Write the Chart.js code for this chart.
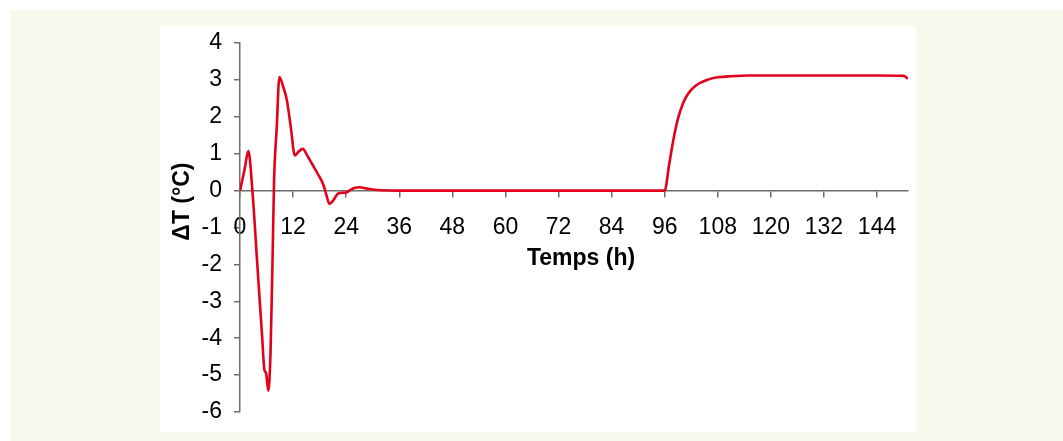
<!DOCTYPE html>
<html>
<head>
<meta charset="utf-8">
<script src="https://cdn.jsdelivr.net/npm/chart.js@4/dist/chart.umd.min.js"></script>
<style>
  body { margin: 0; background: #ffffff; }
  #frame { position: absolute; left: 11px; top: 10px; width: 1052px; height: 431px; background: #f8f8ec; }
  #panel { position: absolute; left: 160px; top: 26px; width: 756px; height: 406px; background: #ffffff; }
  #chart { position: absolute; left: 0; top: 0; }
</style>
</head>
<body>
<div id="frame"></div>
<div id="panel"></div>
<canvas id="chart" width="1063" height="441"></canvas>
<script>
// temperature difference over time (hours)
const hours = [0, 1, 1.9, 2.8, 4, 5, 5.5, 5.9, 6.4, 6.9, 7.4, 7.7, 8.3, 8.9, 9.8, 10.6, 11.5, 12.4,
    13.2, 14.2, 15.2, 16.4, 17.6, 18.9, 19.6, 20.2, 21, 22, 23, 24, 25, 26, 27, 28.5, 30, 32, 36,
    48, 60, 72, 84, 96, 97, 98, 99, 100, 101, 102, 103, 104, 106, 108, 111, 115, 120, 132, 144, 150, 151];
const deltaT = [0, 0.55, 1.07, 0, -2.16, -3.95, -4.85, -4.95, -5.42, -4.4, -1.6, 0.27, 1.7, 3.08, 2.8, 2.45, 1.7, 0.95,
    1.05, 1.13, 0.95, 0.7, 0.45, 0.14, -0.15, -0.36, -0.28, -0.1, -0.06, -0.05, 0.02, 0.08, 0.09, 0.06, 0.03, 0.01, 0,
    0, 0, 0, 0, 0, 0.7, 1.4, 1.95, 2.32, 2.57, 2.73, 2.84, 2.92, 3.02, 3.07, 3.1, 3.12, 3.12, 3.12, 3.12, 3.11, 3.03];

const xMin = 0, xMax = 151, xStep = 12;
const yMin = -6, yMax = 4, yStep = 1;
const xTitle = 'Temps (h)';
const yTitle = '\u0394T (\u00b0C)';

const FONT = 'Arial, "Liberation Sans", Helvetica, sans-serif';
const axisColor = '#6e6e6e';

// axis titles placed the way the spreadsheet export had them
const axisTitles = {
    id: 'axisTitles',
    afterDraw(chart) {
        const { ctx, chartArea } = chart;
        const y0 = chart.scales.y.getPixelForValue(0);
        ctx.save();
        ctx.fillStyle = '#000';
        ctx.font = 'bold 23px ' + FONT;
        ctx.textAlign = 'center';
        ctx.textBaseline = 'middle';
        ctx.fillText(xTitle, chartArea.left + 341, y0 + 68);
        ctx.translate(chartArea.left - 57, y0 + 11);
        ctx.rotate(-Math.PI / 2);
        ctx.fillText(yTitle, 0, 0);
        ctx.restore();
    }
};

const points = hours.map((h, i) => ({ x: h, y: deltaT[i] }));

// one tick every 12 h, without the extra tick Chart.js adds at the axis end
function hourTicks(scale) {
    const ticks = [];
    for (let v = xMin; v <= xMax; v += xStep) ticks.push({ value: v });
    scale.ticks = ticks;
}

new Chart(document.getElementById('chart'), {
    type: 'line',
    data: {
        datasets: [{
            data: points,
            borderColor: '#e2001a',
            borderWidth: 2.6,
            pointRadius: 0,
            cubicInterpolationMode: 'monotone',
            fill: false
        }]
    },
    options: {
        responsive: false,
        animation: false,
        layout: { padding: { left: 0, top: 43, right: 155, bottom: 29 } },
        plugins: { legend: { display: false }, tooltip: { enabled: false } },
        scales: {
            x: {
                type: 'linear',
                position: { y: 0 },
                min: xMin,
                max: xMax,
                afterBuildTicks: hourTicks,
                ticks: { stepSize: xStep, padding: 17, color: '#000', font: { family: FONT, size: 23 }, maxRotation: 0, autoSkip: false },
                grid: { drawOnChartArea: false, drawTicks: true, tickLength: 6, color: axisColor, lineWidth: 1.5 },
                border: { display: true, color: axisColor, width: 1.5 }
            },
            y: {
                min: yMin,
                max: yMax,
                afterFit: s => { s.width = 240; },
                ticks: { stepSize: yStep, padding: 12, color: '#000', font: { family: FONT, size: 23 } },
                grid: { drawOnChartArea: false, drawTicks: true, tickLength: 6, color: axisColor, lineWidth: 1.5 },
                border: { display: true, color: axisColor, width: 1.5 }
            }
        }
    },
    plugins: [axisTitles]
});
</script>
</body>
</html>
